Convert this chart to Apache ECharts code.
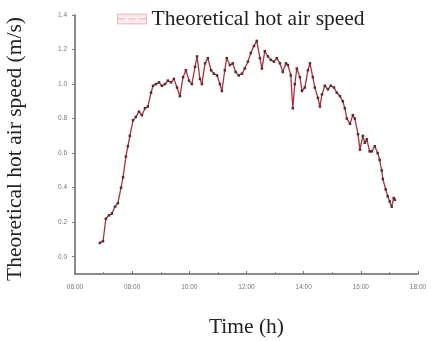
<!DOCTYPE html>
<html>
<head>
<meta charset="utf-8">
<script src="https://cdn.jsdelivr.net/npm/echarts@6/dist/echarts.min.js"></script>
<style>html,body{margin:0;padding:0;background:#fff}#c{width:431px;height:341px}</style>
</head>
<body>
<div id="c"></div>
<script>
// Time in hours of day
var times = [6.87,6.98,7.08,7.19,7.29,7.40,7.50,7.61,7.68,7.78,7.85,7.92,8.03,8.13,8.24,8.34,8.45,8.55,8.66,8.73,8.83,8.94,9.04,9.15,9.25,9.36,9.46,9.57,9.67,9.78,9.88,9.99,10.09,10.20,10.27,10.37,10.44,10.55,10.65,10.76,10.86,10.97,11.07,11.14,11.24,11.31,11.42,11.52,11.62,11.73,11.84,11.94,12.05,12.15,12.26,12.36,12.47,12.54,12.64,12.75,12.85,12.96,13.06,13.17,13.27,13.38,13.45,13.55,13.62,13.69,13.76,13.87,13.94,14.04,14.15,14.22,14.32,14.39,14.50,14.57,14.64,14.74,14.85,14.95,15.06,15.16,15.27,15.37,15.44,15.51,15.62,15.72,15.79,15.90,15.97,16.07,16.14,16.21,16.31,16.38,16.49,16.59,16.66,16.73,16.77,16.87,16.94,17.01,17.08,17.15,17.19];
var speeds = [0.08,0.09,0.22,0.24,0.25,0.29,0.31,0.40,0.46,0.58,0.64,0.70,0.79,0.81,0.84,0.82,0.86,0.87,0.95,0.99,1.00,1.01,0.99,1.00,1.02,1.01,1.03,0.98,0.93,1.04,1.08,1.02,1.00,1.10,1.16,1.03,1.00,1.12,1.15,1.08,1.06,1.05,1.00,0.96,1.08,1.15,1.11,1.12,1.07,1.05,1.06,1.09,1.13,1.18,1.22,1.25,1.15,1.09,1.19,1.16,1.14,1.13,1.15,1.12,1.07,1.12,1.11,1.05,0.86,1.00,1.09,1.04,0.96,0.98,1.08,1.12,1.04,0.98,0.92,0.87,0.94,0.99,0.97,0.99,0.98,0.95,0.93,0.90,0.86,0.80,0.77,0.82,0.80,0.71,0.62,0.70,0.66,0.68,0.61,0.61,0.64,0.60,0.56,0.50,0.45,0.39,0.35,0.32,0.29,0.34,0.33];
var yTicks = [0,0.2,0.4,0.6,0.8,1.0,1.2,1.4];
var xTicks = [6,8,10,12,14,16,18];
var seriesName = 'Theoretical hot air speed';

var data = times.map(function(t,i){return [t, speeds[i]];});
var chart = echarts.init(document.getElementById('c'), null, {renderer:'canvas'});
var serif = '"Liberation Serif","Times New Roman",serif';
function pad(n){return (n<10?'0':'')+n;}
chart.setOption({
  animation:false,
  backgroundColor:'#fff',
  legend:{
    left:112, top:3, itemWidth:29, itemHeight:10, itemGap:5,
    data:[{name:seriesName, icon:'path://M0,4 L6,4 M9,4 L15,4 M18,4 L24,4 M0,0 L24,0 L24,8 L0,8 Z'}],
    textStyle:{fontFamily:serif, fontSize:21.5, color:'#222'},
    itemStyle:{color:'#fbeaec', borderColor:'#e8b5bb', borderWidth:1}
  },
  grid:{left:75, right:13, top:15, bottom:67, containLabel:false, outerBoundsMode:'none'},
  xAxis:{
    type:'value', min:6, max:18, interval:2,
    name:'Time (h)', nameLocation:'middle', nameGap:42,
    nameTextStyle:{fontFamily:serif, fontSize:21.5, color:'#222'},
    axisLine:{onZero:false, lineStyle:{color:'#666', width:1.5}},
    axisTick:{show:true, inside:true, length:3, lineStyle:{color:'#777'}},
    minorTick:{show:true, splitNumber:2, length:2, lineStyle:{color:'#888'}},
    splitLine:{show:false},
    axisLabel:{fontSize:6.5, color:'#777', margin:10, formatter:function(v){return pad(v)+':00';}}
  },
  yAxis:{
    type:'value', min:-0.1, max:1.4,
    axisLine:{show:true, onZero:false, lineStyle:{color:'#666', width:1.5}},
    axisTick:{show:true, length:3, customValues:yTicks, lineStyle:{color:'#777'}},
    splitLine:{show:false},
    axisLabel:{fontSize:6.5, color:'#777', margin:8, customValues:yTicks, formatter:function(v){return v.toFixed(1);}}
  },
  graphic:[{
    type:'text', x:15, y:149, rotation:Math.PI/2,
    style:{text:'Theoretical hot air speed (m/s)', font:'21.5px '+serif, fill:'#222', align:'center', verticalAlign:'middle'}
  }],
  series:[{
    name:seriesName, type:'line', data:data,
    showSymbol:true, symbol:'rect', symbolSize:2.5,
    lineStyle:{color:'#a8303f', width:1.3},
    itemStyle:{color:'#5a2a30'}
  }]
});
</script>
</body>
</html>
